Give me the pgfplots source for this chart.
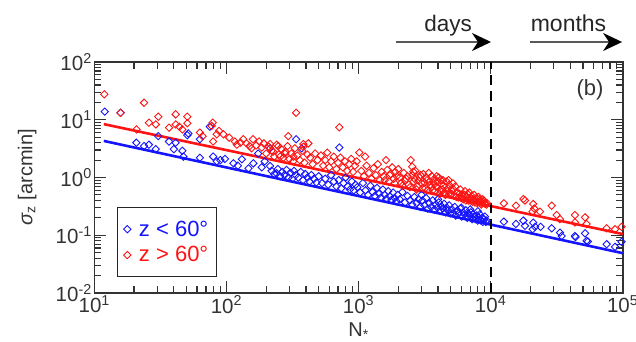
\documentclass[border=0pt]{standalone}
\usepackage{pgfplots}
\pgfplotsset{compat=1.18}
\usepackage{pgfplotstable}
\usepackage{fontspec}
\setmainfont{Liberation Sans}
\usetikzlibrary{arrows.meta,calc}
\definecolor{pblue}{RGB}{20,20,255}
\definecolor{pred}{RGB}{255,20,20}

\pgfplotstableread{
N s
12 13.8
15.8 13.2
20.8 4.0
23.8 3.5
25.9 3.7
29.2 3.1
30.5 5.2
36.8 4.2
40 3.1
41.3 4.0
46.4 2.9
47.2 2.3
50.6 5.4
51.5 5.8
63 2.2
63 4.6
75 7.6
79.4 2.3
84.5 1.9
90 2.0
97.5 2.1
113 1.76
122 1.6
131 2.07
147 1.44
160 1.76
174 2.6
185 1.5
195 1.9
214 3.2
214 1.58
220 1.3
230 1.15
240 1.18
245 1.4
255 1.05
265 1.25
275 1.1
285 1.35
295 1.0
305 1.2
315 0.95
325 1.3
335 1.1
337 4.6
350 1.0
365 1.25
372 3.2
380 0.9
395 1.15
410 1.0
425 0.85
440 1.1
460 0.95
480 0.82
500 1.05
530 0.8
560 0.95
590 0.75
620 1.1
650 0.85
680 0.7
710 0.9
716 3.3
740 0.65
770 0.8
800 1.0
830 0.7
860 0.62
890 0.85
920 0.6
950 0.75
980 0.68
1030 0.55
1080 0.8
1130 0.6
1180 0.5
1230 0.72
1280 0.56
1330 0.48
1380 0.66
1430 0.52
1480 0.45
1530 0.62
1580 0.5
1630 0.43
1680 0.58
1730 0.47
1780 0.41
1830 0.55
1880 0.44
1930 0.39
1980 0.5
2050 0.42
2150 0.56
2250 0.37
2350 0.48
2450 0.4
2550 0.34
2650 0.46
2750 0.36
2850 0.42
2950 0.31
3000 0.5
3050 0.4
3150 0.33
3250 0.44
3350 0.29
3450 0.36
3550 0.31
3650 0.4
3750 0.28
3850 0.34
3950 0.3
4000 0.42
4050 0.37
4150 0.27
4250 0.32
4350 0.29
4450 0.35
4550 0.25
4650 0.3
4750 0.27
4850 0.33
4950 0.24
5100 0.28
5200 0.24
5350 0.31
5450 0.22
5600 0.27
5750 0.24
5900 0.29
6000 0.3
6050 0.21
6200 0.25
6350 0.23
6500 0.27
6650 0.2
6800 0.24
6950 0.22
7000 0.28
7100 0.25
7250 0.19
7400 0.23
7550 0.21
7700 0.19
7850 0.22
8000 0.26
8000 0.18
8150 0.2
8300 0.23
8450 0.18
8600 0.2
8750 0.17
8900 0.19
9050 0.21
9200 0.17
9330 0.18
12600 0.172
15560 0.157
17700 0.179
18200 0.146
21000 0.165
20800 0.127
21700 0.14
23900 0.14
29000 0.132
33500 0.111
34500 0.097
43500 0.097
44000 0.093
51900 0.108
53300 0.08
54500 0.078
75600 0.07
87500 0.063
98000 0.077
}\lowz

\pgfplotstableread{
N s
11.9 27.6
15.8 13.2
20.9 6.8
23.8 19.7
25.9 8.9
29.2 8.3
30.5 11.3
36.8 7.3
41.3 12.4
41.3 8.3
44 7.6
46.4 6.8
50.6 11.3
50.6 8.7
63 6.0
66 5.2
77.4 7.8
78.7 8.9
79.4 4.2
84.5 5.6
88 6.4
94.9 5.6
105 4.9
116 4.2
120 3.7
128 4.0
134 4.6
142 3.9
150 3.5
155 3.2
159 4.6
168 3.6
177 4.2
185 3.3
192 3.9
200 2.6
210 3.4
214 3.8
220 2.9
226 2.8
230 2.3
240 3.7
247 3.5
250 2.5
255 2.3
260 3.1
270 2.2
278 2.6
280 2.8
290 3.5
294 5.2
300 2.1
310 2.6
320 1.9
322 2.3
330 3.2
337 13.2
345 2.4
360 2.0
375 2.9
382 3.4
383 3.8
390 1.8
410 2.5
417 3.9
430 2.2
450 1.7
470 2.6
490 2.0
520 2.4
540 1.6
560 2.0
580 2.7
600 1.5
620 1.9
650 2.3
680 1.4
700 1.8
716 7.4
730 2.2
760 1.5
790 1.9
820 1.3
850 1.7
880 2.1
910 1.25
940 1.6
970 1.9
1014 2.7
1050 1.3
1100 1.05
1122 2.3
1150 1.6
1200 1.2
1250 0.95
1300 1.45
1350 1.1
1400 1.7
1450 0.9
1500 1.25
1550 1.05
1580 0.9
1614 2.0
1650 1.35
1700 0.85
1720 1.1
1750 1.15
1800 1.5
1850 0.95
1880 0.8
1900 1.25
1950 1.05
2000 1.4
2050 1.0
2100 0.8
2150 0.72
2200 1.2
2250 0.88
2300 0.95
2350 1.05
2400 0.75
2450 0.68
2484 2.0
2550 1.54
2560 1.1
2600 1.26
2610 0.85
2650 0.95
2700 1.3
2750 0.62
2800 0.7
2850 0.88
2900 1.0
2950 1.1
3000 0.8
3050 0.66
3100 1.15
3150 0.82
3200 0.65
3250 1.0
3300 0.9
3350 0.6
3400 1.2
3450 0.85
3500 0.75
3550 0.68
3580 1.06
3650 0.6
3700 0.8
3750 0.95
3800 0.58
3850 0.7
3900 1.05
3950 0.85
4000 0.66
4050 1.0
4100 0.52
4150 0.6
4200 0.9
4250 0.78
4300 0.62
4350 0.9
4400 0.72
4450 0.55
4550 0.5
4650 0.85
4700 0.58
4750 0.65
4800 0.9
4850 0.75
4950 0.5
5050 0.6
5100 0.52
5190 0.79
5250 0.62
5300 0.48
5400 0.7
5500 0.46
5600 0.55
5700 0.45
5800 0.52
5900 0.62
6000 0.44
6100 0.5
6200 0.42
6300 0.5
6400 0.58
6500 0.4
6600 0.47
6700 0.52
6800 0.4
6900 0.55
7000 0.4
7100 0.45
7200 0.48
7300 0.38
7400 0.42
7500 0.5
7600 0.37
7700 0.42
7800 0.44
7900 0.36
8000 0.38
8100 0.46
8200 0.42
8300 0.39
8400 0.37
8500 0.34
8600 0.36
8700 0.42
8810 0.38
8900 0.4
9000 0.36
9100 0.35
9300 0.34
9400 0.36
12600 0.357
15560 0.325
17700 0.425
18200 0.4
21000 0.348
21400 0.29
20800 0.257
23650 0.257
29000 0.325
31600 0.224
33500 0.19
43500 0.224
43500 0.167
51900 0.204
53300 0.157
75600 0.132
87500 0.127
98000 0.14
}\highz

\begin{document}
\begin{tikzpicture}
\begin{axis}[
  xmode=log, ymode=log,
  scale only axis, width=528.4pt, height=231pt,
  xmin=10, xmax=1e5, ymin=1e-2, ymax=1e2,
  axis line style={line width=1.6pt, black!80},
  tick style={line width=1.2pt, black!80},
  major tick length=12pt, minor tick length=7pt,
  tick align=inside,
  xtick={10,100,1000,10000,100000},
  xticklabels={10\textsuperscript{1},10\textsuperscript{2},10\textsuperscript{3},10\textsuperscript{4},10\textsuperscript{5}},
  ytick={0.01,0.1,1,10,100},
  yticklabels={10\textsuperscript{-2},10\textsuperscript{-1},10\textsuperscript{0},10\textsuperscript{1},10\textsuperscript{2}},
  ticklabel style={font=\fontsize{20.5}{22}\selectfont, text=black!80},
  xticklabel style={yshift=1pt},
  yticklabel style={xshift=1pt},
  xlabel={N\textsubscript{*}},
  ylabel={\textit{σ}\textsubscript{z} [arcmin]},
  label style={font=\fontsize{20}{22}\selectfont, text=black!80},
  xlabel style={at={(axis description cs:0.5,-0.165)}, anchor=center},
  ylabel style={at={(axis description cs:-0.127,0.5)}, anchor=center},
  clip=false,
  legend style={at={(rel axis cs:0.043,0.069)}, anchor=south west,
    draw=black!85, line width=1.2pt, font=\fontsize{22}{24}\selectfont,
    inner xsep=6pt, inner ysep=11pt, row sep=5pt},
  legend cell align=left,
]
\addplot[only marks, mark=square, mark size=2.6pt, color=pblue, mark options={rotate=45, line width=0.9pt}] table[x=N, y=s] {\lowz};
\addlegendentry{\hspace{6pt}\textcolor{pblue}{z < 60°}}
\addplot[only marks, mark=square, mark size=2.6pt, color=pred, mark options={rotate=45, line width=0.9pt}] table[x=N, y=s] {\highz};
\addlegendentry{\hspace{6pt}\textcolor{pred}{z > 60°}}
\addplot[pred, line width=2.6pt, forget plot] coordinates {(11.8,8.4) (100000,0.105)};
\addplot[pblue, line width=2.6pt, forget plot] coordinates {(11.8,4.3) (100000,0.049)};
\addplot[black, line width=2pt, dash pattern=on 10pt off 6pt, forget plot] coordinates {(10000,0.01) (10000,100)};
\node[font=\fontsize{22}{24}\selectfont, text=black!80] at (rel axis cs:0.938,0.879) {(b)};
\draw[line width=2pt, black!65, -{Stealth[length=19pt, width=18pt, inset=6pt, black]}] (axis cs:1923,222) -- (axis cs:10070,222);
\draw[line width=2pt, black!65, -{Stealth[length=19pt, width=18pt, inset=6pt, black]}] (axis cs:19860,222) -- (axis cs:98900,222);
\node[font=\fontsize{22.5}{24}\selectfont, text=black!85, anchor=base, inner sep=0pt] at (axis cs:4760,344) {days};
\node[font=\fontsize{23}{24}\selectfont, text=black!85, anchor=base, inner sep=0pt] at (axis cs:38900,344) {months};
\coordinate (bl) at (rel axis cs:0,0);
\coordinate (tr) at (rel axis cs:1,1);
\end{axis}
\pgfresetboundingbox
\path[use as bounding box] ($(bl)+(-94.3pt,-48pt)$) rectangle ($(tr)+(13.3pt,62pt)$);
\end{tikzpicture}
\end{document}
